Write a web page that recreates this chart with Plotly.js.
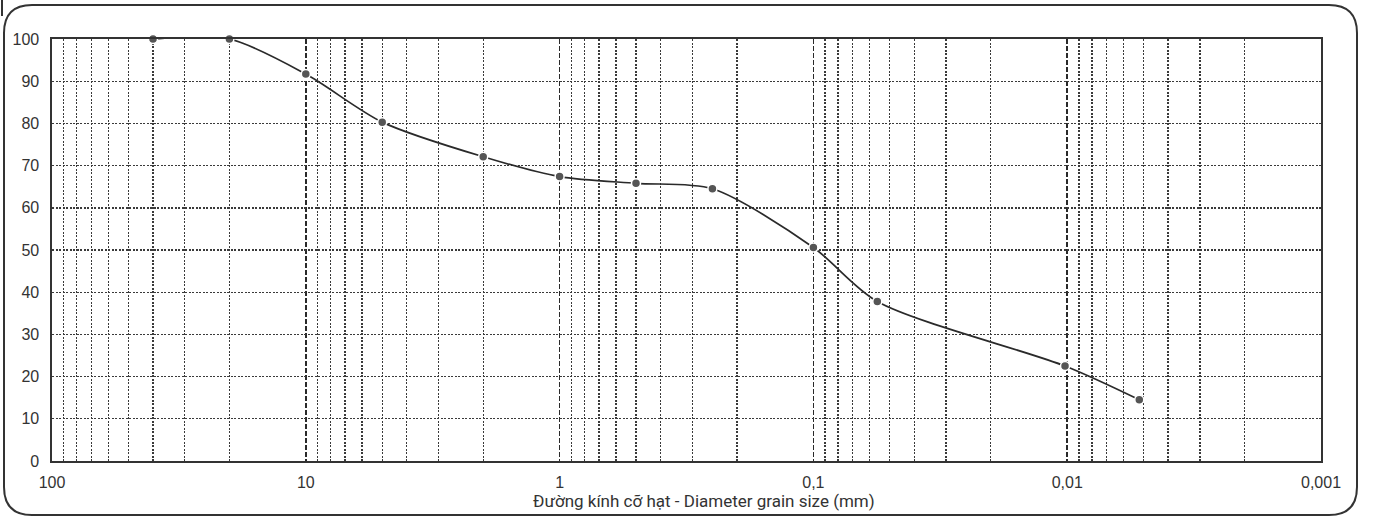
<!DOCTYPE html>
<html>
<head>
<meta charset="utf-8">
<script src="https://cdn.plot.ly/plotly-3.0.1.min.js"></script>
<style>
  html, body { margin: 0; padding: 0; background: #ffffff; }
  #chart { width: 1385px; height: 520px; }
</style>
</head>
<body>
<div id="chart"></div>
<script>
// Grain size distribution
const diameterMm = [40, 20, 10, 5, 2, 1, 0.5, 0.25, 0.1, 0.056, 0.0102, 0.0052];
const percentPassing = [100, 100, 91.7, 80.3, 72.1, 67.4, 65.8, 64.5, 50.6, 37.8, 22.5, 14.5];

const majorTickVals = [100, 10, 1, 0.1, 0.01, 0.001];
const majorTickText = ["100", "10", "1", "0,1", "0,01", "0,001"];
const minorMultipliers = [2, 3, 4, 5, 6, 7, 8, 9];
const yTickVals = [0, 10, 20, 30, 40, 50, 60, 70, 80, 90, 100];
const xTitle = "Đường kính cỡ hạt - Diameter grain size (mm)";

const minorTickVals = [];
[10, 1, 0.1, 0.01, 0.001].forEach(d => minorMultipliers.forEach(m => minorTickVals.push(+(d * m).toPrecision(3))));

const trace = {
  x: diameterMm,
  y: percentPassing,
  type: 'scatter',
  mode: 'lines+markers',
  line: { color: '#2a2a2a', width: 1.7, shape: 'spline', smoothing: 0.8 },
  marker: { color: '#555555', size: 9, line: { color: '#ffffff', width: 1.5 } },
  cliponaxis: false,
  hoverinfo: 'x+y'
};

// Outer rounded frame in paper coordinates
const W = 1269, H = 422;
const px = v => (v - 52) / W;
const py = v => (461 - v) / H;
const L = px(4), R = px(1357), T = py(5), B = py(515);
const rx = 28 / W, ry = 28 / H;
const framePath = `M ${L + rx} ${T} L ${R - rx} ${T} Q ${R} ${T} ${R} ${T - ry} L ${R} ${B + ry} Q ${R} ${B} ${R - rx} ${B} L ${L + rx} ${B} Q ${L} ${B} ${L} ${B + ry} L ${L} ${T - ry} Q ${L} ${T} ${L + rx} ${T} Z`;

const tickFont = { family: 'Liberation Sans, Arial, sans-serif', size: 16, color: '#333333' };

const layout = {
  width: 1385,
  height: 520,
  margin: { l: 52, r: 64, t: 39, b: 59 },
  paper_bgcolor: '#ffffff',
  plot_bgcolor: '#ffffff',
  showlegend: false,
  font: { family: 'Liberation Sans, Arial, sans-serif', size: 16, color: '#333333' },
  xaxis: {
    type: 'log',
    range: [2, -3],
    tickmode: 'array',
    tickvals: majorTickVals,
    ticktext: majorTickText,
    showgrid: true,
    gridcolor: '#2a2a2a',
    gridwidth: 1.6,
    griddash: '5px,2px',
    minor: {
      tickmode: 'array',
      tickvals: minorTickVals,
      showgrid: true,
      gridcolor: '#3a3a3a',
      gridwidth: 1.4,
      griddash: '2px,1.5px',
      ticks: ''
    },
    ticks: '',
    ticklabelstandoff: 6,
    showline: true,
    linecolor: '#333333',
    linewidth: 1.6,
    mirror: true,
    zeroline: false,
    tickfont: tickFont,
    automargin: false
  },
  yaxis: {
    range: [0, 100],
    tickmode: 'array',
    tickvals: yTickVals,
    showgrid: true,
    gridcolor: '#3a3a3a',
    gridwidth: 1.4,
    griddash: '2px,1.5px',
    ticks: '',
    ticklabelstandoff: 8,
    showline: true,
    linecolor: '#333333',
    linewidth: 1.6,
    mirror: true,
    zeroline: false,
    tickfont: tickFont,
    automargin: false
  },
  annotations: [{
    text: xTitle,
    xref: 'paper', yref: 'paper',
    x: px(704), y: py(501),
    xanchor: 'center', yanchor: 'middle',
    showarrow: false,
    font: { family: 'Roboto, Liberation Sans, sans-serif', size: 17, color: '#333333' }
  }],
  shapes: [{
    type: 'path',
    xref: 'paper', yref: 'paper',
    path: framePath,
    line: { color: '#333333', width: 2 },
    fillcolor: 'rgba(0,0,0,0)',
    layer: 'below'
  }, {
    type: 'line',
    xref: 'paper', yref: 'paper',
    x0: px(2), x1: px(2), y0: py(0), y1: py(16),
    line: { color: '#333333', width: 2 }
  }]
};

Plotly.newPlot('chart', [trace], layout, { staticPlot: true, displayModeBar: false });
</script>
</body>
</html>
